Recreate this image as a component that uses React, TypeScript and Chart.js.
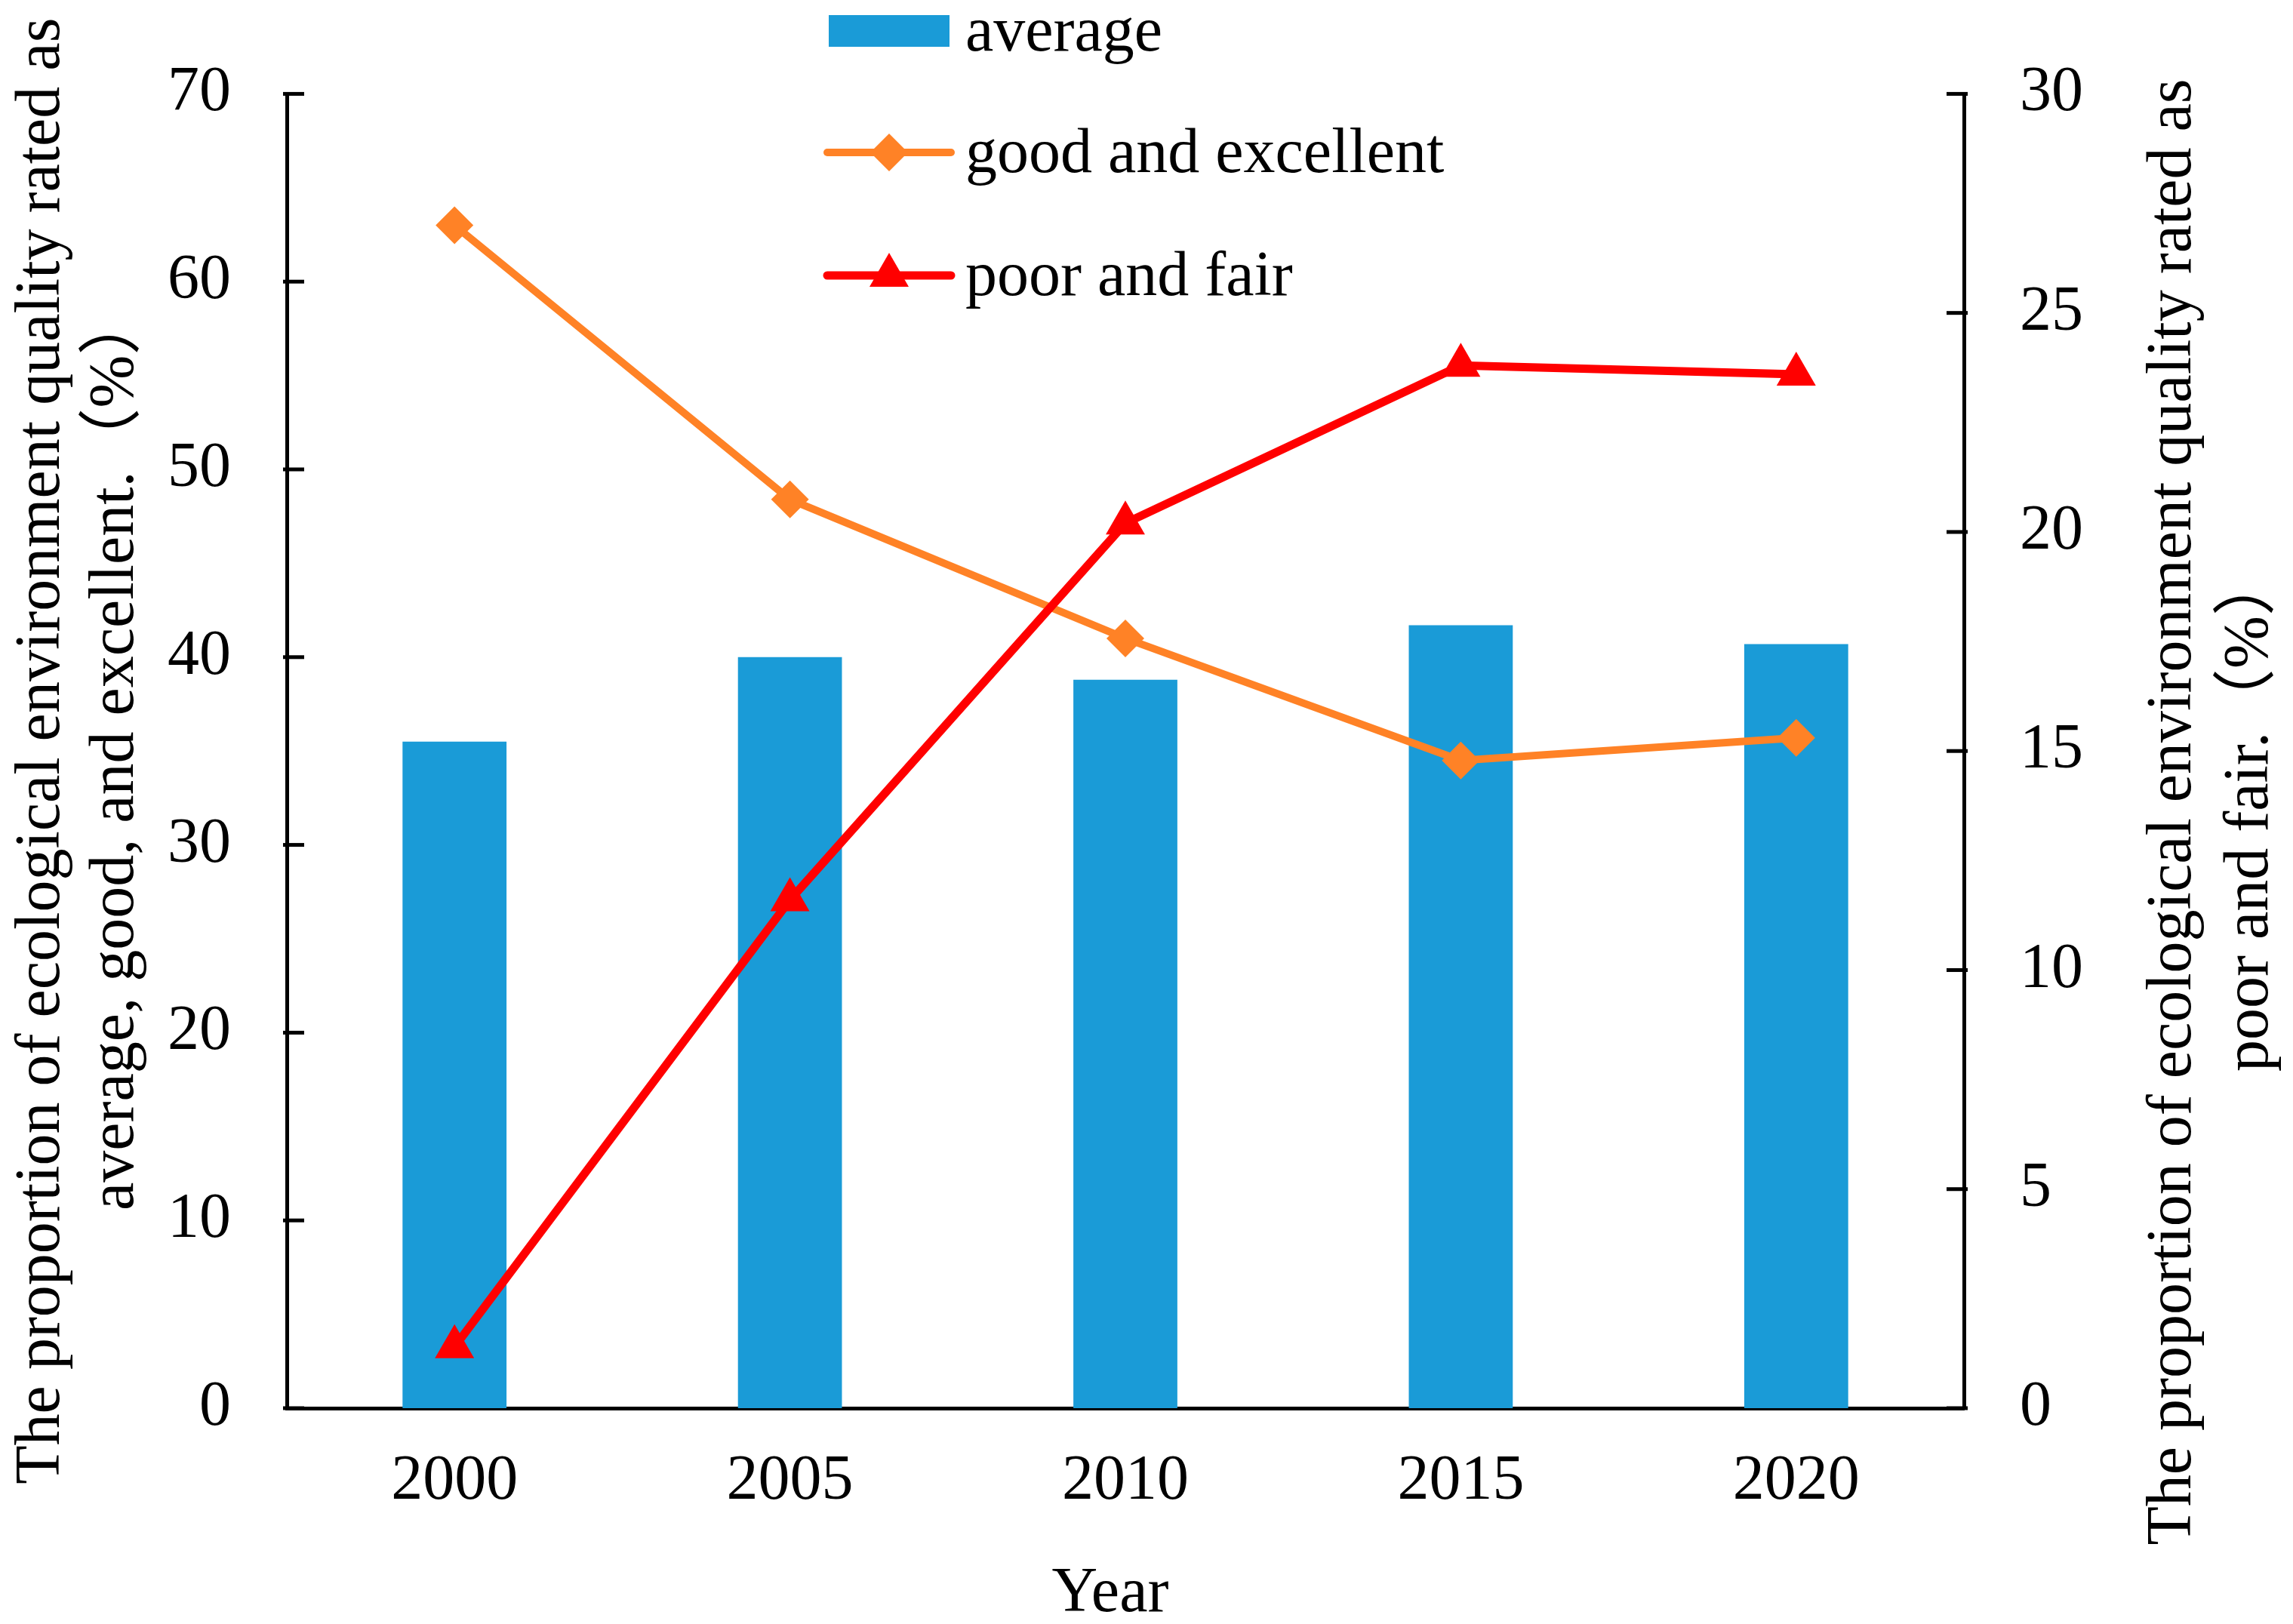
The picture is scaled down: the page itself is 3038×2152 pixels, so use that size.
import React, { useEffect, useRef } from 'react';
import { Chart, registerables } from 'chart.js';
import { drawPoint } from 'chart.js/helpers';

Chart.register(...registerables);

const years = ['2000', '2005', '2010', '2015', '2020'];
// left axis (%)
const averageShare = [35.5, 40.0, 38.8, 41.7, 40.7];
const goodExcellentShare = [63.0, 48.4, 41.0, 34.5, 35.7];
// right axis (%)
const poorFairShare = [1.4, 11.6, 20.2, 23.8, 23.6];

const leftTicks = [0, 10, 20, 30, 40, 50, 60, 70];
const rightTicks = [0, 5, 10, 15, 20, 25, 30];

const leftTitle = [
  'The proportion of ecological environment quality rated as',
  'average, good, and excellent.（%）',
];
const rightTitle = [
  'The proportion of ecological environment quality rated as',
  'poor and fair.（%）',
];
const xTitle = 'Year';

const FONT = "'Liberation Serif', 'Times New Roman', 'Noto Sans CJK SC', serif";
const FONT_SIZE = 84;
const BLUE = '#1A9BD7';
const ORANGE = '#FF8226';
const RED = '#FF0000';

// tick marks pointing into the plot area
const innerTicks = {
  id: 'innerTicks',
  afterDraw(chart: any) {
    const ctx = chart.ctx;
    ['y', 'y1'].forEach((id) => {
      const s = chart.scales[id];
      const left = id === 'y';
      const x0 = left ? s.right - 5 : s.left + 5;
      ctx.save();
      ctx.strokeStyle = '#000';
      ctx.lineWidth = 5;
      s.ticks.forEach((t: any) => {
        const py = s.getPixelForValue(t.value);
        ctx.beginPath();
        ctx.moveTo(x0, py);
        ctx.lineTo(left ? x0 + 28 : x0 - 28, py);
        ctx.stroke();
      });
      ctx.restore();
    });
  },
};

const axisTitles = {
  id: 'axisTitles',
  afterDraw(chart: any) {
    const ctx = chart.ctx;
    const area = chart.chartArea;
    ctx.save();
    ctx.fillStyle = '#000';
    ctx.font = `${FONT_SIZE}px ${FONT}`;
    ctx.textAlign = 'center';
    ctx.textBaseline = 'alphabetic';

    const drawVertical = (lines: string[], baselines: number[], cy: number) => {
      lines.forEach((line, i) => {
        ctx.save();
        ctx.translate(baselines[i], cy);
        ctx.rotate(-Math.PI / 2);
        ctx.fillText(line, 0, 0);
        ctx.restore();
      });
    };
    drawVertical(leftTitle, [78, 176], (area.top + area.bottom) / 2);
    drawVertical(rightTitle, [2902, 3004], chart.height / 2);

    ctx.fillText(xTitle, (area.left + area.right) / 2 - 20, 2135);
    ctx.restore();
  },
};

const stackedLegend = {
  id: 'stackedLegend',
  afterDraw(chart: any) {
    const ctx = chart.ctx;
    const rows = [41, 202, 365];
    const symLeft = 1096;
    const symRight = 1260;
    const textX = 1279;
    ctx.save();
    chart.data.datasets.forEach((ds: any, i: number) => {
      const y = rows[i];
      if (ds.type === 'bar') {
        ctx.fillStyle = ds.backgroundColor;
        ctx.fillRect(symLeft + 2, y - 21, symRight - symLeft - 4, 42);
      } else {
        ctx.strokeStyle = ds.borderColor;
        ctx.lineWidth = ds.borderWidth;
        ctx.lineCap = 'round';
        ctx.beginPath();
        ctx.moveTo(symLeft, y);
        ctx.lineTo(symRight, y);
        ctx.stroke();
        ctx.fillStyle = ds.pointBackgroundColor;
        ctx.strokeStyle = ds.pointBackgroundColor;
        drawPoint(ctx, { pointStyle: ds.pointStyle, radius: ds.pointRadius, borderWidth: 0, rotation: 0 }, (symLeft + symRight) / 2, y);
      }
      ctx.fillStyle = '#000';
      ctx.font = `${FONT_SIZE}px ${FONT}`;
      ctx.textAlign = 'left';
      ctx.textBaseline = 'alphabetic';
      ctx.fillText(ds.label, textX, y + 26);
    });
    ctx.restore();
  },
};

const tickFont = { family: FONT, size: FONT_SIZE };

const App: React.FC = () => {
  const canvasRef = useRef<HTMLCanvasElement | null>(null);
  const chartRef = useRef<Chart | null>(null);

  useEffect(() => {
    document.body.style.margin = '0';
    document.body.style.overflow = 'hidden';
    const ctx = canvasRef.current?.getContext('2d');
    if (!ctx) return;
    if (chartRef.current) chartRef.current.destroy();

    chartRef.current = new Chart(ctx, {
      type: 'bar',
      data: {
        labels: years,
        datasets: [
          {
            type: 'bar',
            label: 'average',
            data: averageShare,
            yAxisID: 'y',
            backgroundColor: BLUE,
            barPercentage: 0.31,
            categoryPercentage: 1,
            order: 2,
          },
          {
            type: 'line',
            label: 'good and excellent',
            data: goodExcellentShare,
            yAxisID: 'y',
            borderColor: ORANGE,
            borderWidth: 10,
            pointStyle: 'rectRot',
            pointRadius: 25,
            pointBackgroundColor: ORANGE,
            pointBorderWidth: 0,
            tension: 0,
            clip: false,
            order: 1,
          },
          {
            type: 'line',
            label: 'poor and fair',
            data: poorFairShare,
            yAxisID: 'y1',
            borderColor: RED,
            borderWidth: 11,
            pointStyle: 'triangle',
            pointRadius: 30,
            pointBackgroundColor: RED,
            pointBorderWidth: 0,
            tension: 0,
            clip: false,
            order: 0,
          },
        ],
      } as any,
      options: {
        animation: false,
        responsive: true,
        maintainAspectRatio: false,
        layout: { padding: { top: 122, left: 0, right: 0, bottom: 0 } },
        plugins: {
          legend: { display: false },
          tooltip: { enabled: false },
        },
        scales: {
          x: {
            type: 'category',
            offset: true,
            grid: { display: false, drawTicks: false },
            border: { display: true, color: '#000', width: 5 },
            ticks: { font: tickFont, color: '#000', padding: 48 },
            afterFit: (s: any) => { s.height = 286; },
          },
          y: {
            position: 'left',
            min: 0,
            max: 70,
            grid: { display: false, drawTicks: false },
            border: { display: true, color: '#000', width: 5 },
            ticks: { font: tickFont, color: '#000', padding: 74 },
            afterBuildTicks: (s: any) => { s.ticks = leftTicks.map((v) => ({ value: v })); },
            afterFit: (s: any) => { s.width = 380; },
          },
          y1: {
            position: 'right',
            min: 0,
            max: 30,
            grid: { display: false, drawTicks: false },
            border: { display: true, color: '#000', width: 5 },
            ticks: { font: tickFont, color: '#000', padding: 74 },
            afterBuildTicks: (s: any) => { s.ticks = rightTicks.map((v) => ({ value: v })); },
            afterFit: (s: any) => { s.width = 436; },
          },
        },
      } as any,
      plugins: [innerTicks, axisTitles, stackedLegend],
    });

    return () => {
      if (chartRef.current) {
        chartRef.current.destroy();
        chartRef.current = null;
      }
    };
  }, []);

  return (
    <div style={{ width: '3038px', height: '2152px', position: 'relative', background: '#fff' }}>
      <canvas ref={canvasRef} />
    </div>
  );
};

export default App;
